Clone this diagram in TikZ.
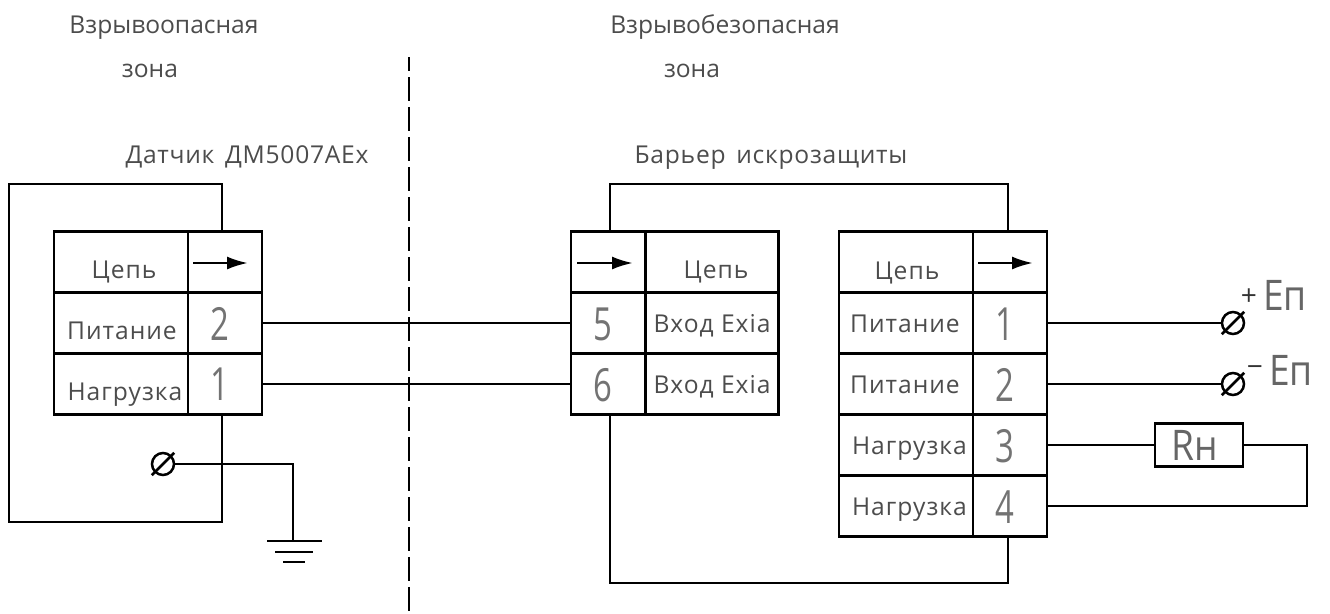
\documentclass[tikz,border=0pt]{standalone}
\usepackage{fontspec}
\setmainfont{Open Sans}
\newfontfamily\wordfont[LetterSpace=3,WordSpace=1.5]{Open Sans}
\newfontfamily\cellfont[LetterSpace=4]{Open Sans}
\newfontfamily\pinfont[FakeStretch=0.72]{Open Sans}
\newfontfamily\bigfont[FakeStretch=0.88]{Open Sans}
\usetikzlibrary{arrows.meta}
\newcommand{\celltext}[3]{\raisebox{-#2}[0pt][0pt]{\makebox[0pt]{\kern#1\kern#1 #3}}}
\newcommand{\drawslash}[1]{\draw[wire, shorten <=-2pt, shorten >=-2pt] (#1.225) -- (#1.45);}
\tikzset{
	wire/.style={line width=0.05cm},
	cell/.style={draw, wire, inner sep=0pt, minimum height=1.22cm, text=black!70, font=\cellfont\fontsize{14}{14}\selectfont},
	namecell/.style={cell, minimum width=2.68cm},
	pincell/.style={cell, minimum width=1.48cm, text=black!55, font=\pinfont\fontsize{26}{26}\selectfont},
	caption/.style={inner sep=0pt, anchor=base, text=black!70, font=\fontsize{14}{14}\selectfont},
	widecaption/.style={caption, font=\wordfont\fontsize{14}{14}\selectfont},
	terminal/.style={draw, wire, circle, inner sep=0pt, minimum size=0.44cm},
	bigtext/.style={inner sep=0pt, text=black!60, font=\bigfont\fontsize{24}{24}\selectfont},
	signtext/.style={inner sep=0pt, text=black!80, font=\fontsize{16}{16}\selectfont},
	flow/.style={line width=0.05cm, -{Latex[length=0.42cm,width=0.26cm]}},
}
\begin{document}
\begin{tikzpicture}[x=0.02cm, y=-0.02cm]
		\useasboundingbox (0, 0) rectangle (1330, 613);
		%%%%% START %%%%%
		\node[caption] (zonea) at (164, 33) {Взрывоопасная};
		\node[caption] (zonean) at (150, 77) {зона};
		\node[caption] (zoneb) at (725, 33) {Взрывобезопасная};
		\node[caption] (zonebn) at (692, 77) {зона};
		\node[widecaption] (sensorcap) at (247, 163) {Датчик ДМ5007АEx};
		\node[widecaption] (barriercap) at (771, 163) {Барьер искрозащиты};
		
		\coordinate (zonetop) at (409, 57);
		\coordinate (zonebot) at (409, 613);
		\draw[wire, dash pattern=on 0.48cm off 0.12cm, dash phase=0.2cm] (zonetop) -- (zonebot);
		
		% sensor
		\node[namecell] (sh) at (121, 262) {\celltext{0.06cm}{0.32cm}{Цепь}};
		\node[pincell] (sa) at (225, 262) {};
		\node[namecell] (sn1) at (121, 323) {\celltext{0.02cm}{0.32cm}{Питание}};
		\node[pincell] (s2) at (225, 323) {\celltext{-0.1cm}{0.34cm}{2}};
		\node[namecell] (sn2) at (121, 384) {\celltext{0.08cm}{0.32cm}{Нагрузка}};
		\node[pincell] (s1) at (225, 384) {\celltext{-0.1cm}{0.32cm}{1}};
		
		% barrier, input side
		\node[pincell] (ba) at (608, 262) {};
		\node[namecell, minimum width=2.66cm] (bh) at (712, 262) {\celltext{0.08cm}{0.32cm}{Цепь}};
		\node[pincell] (b5) at (608, 323) {\celltext{-0.1cm}{0.34cm}{5}};
		\node[namecell, minimum width=2.66cm] (bn1) at (712, 323) {\celltext{0cm}{0.18cm}{Вход Exia}};
		\node[pincell] (b6) at (608, 384) {\celltext{-0.1cm}{0.34cm}{6}};
		\node[namecell, minimum width=2.66cm] (bn2) at (712, 384) {\celltext{0cm}{0.18cm}{Вход Exia}};
		
		% barrier, output side
		\node[namecell] (ch) at (906, 262) {\celltext{0.02cm}{0.34cm}{Цепь}};
		\node[pincell] (ca) at (1010, 262) {};
		\node[namecell] (cn1) at (906, 323) {\celltext{-0.02cm}{0.18cm}{Питание}};
		\node[pincell] (c1) at (1010, 323) {\celltext{-0.1cm}{0.34cm}{1}};
		\node[namecell] (cn2) at (906, 384) {\celltext{-0.02cm}{0.18cm}{Питание}};
		\node[pincell] (c2) at (1010, 384) {\celltext{-0.1cm}{0.34cm}{2}};
		\node[namecell] (cn3) at (906, 445) {\celltext{0.07cm}{0.18cm}{Нагрузка}};
		\node[pincell] (c3) at (1010, 445) {\celltext{-0.1cm}{0.34cm}{3}};
		\node[namecell] (cn4) at (906, 506) {\celltext{0.07cm}{0.18cm}{Нагрузка}};
		\node[pincell] (c4) at (1010, 506) {\celltext{-0.1cm}{0.34cm}{4}};
		
		\coordinate (saa) at (193, 263);
		\coordinate (sab) at (248, 263);
		\draw[flow] (saa) -- (sab);
		\coordinate (baa) at (577, 263);
		\coordinate (bab) at (633, 263);
		\draw[flow] (baa) -- (bab);
		\coordinate (caa) at (978, 263);
		\coordinate (cab) at (1033, 263);
		\draw[flow] (caa) -- (cab);
		
		% sensor housing and earth
		\coordinate (stop) at (222, 232);
		\coordinate (sbot) at (222, 415);
		\coordinate (fa) at (222, 184);
		\coordinate (fb) at (9, 184);
		\coordinate (fc) at (9, 522);
		\coordinate (fd) at (222, 522);
		\draw[wire] (stop) -- (fa) -- (fb) -- (fc) -- (fd) -- (sbot);
		
		\node[terminal] (te) at (163, 464) {};
		\drawslash{te}
		\coordinate (ea) at (293, 464);
		\coordinate (eb) at (293, 541);
		\draw[wire] (te) -- (ea) -- (eb);
		\coordinate (g1a) at (267, 541);
		\coordinate (g1b) at (322, 541);
		\coordinate (g2a) at (275, 552);
		\coordinate (g2b) at (313, 552);
		\coordinate (g3a) at (283, 562);
		\coordinate (g3b) at (305, 562);
		\draw[wire] (g1a) -- (g1b);
		\draw[wire] (g2a) -- (g2b);
		\draw[wire] (g3a) -- (g3b);
		
		\draw[wire] (s2.east) -- (b5.west);
		\draw[wire] (s1.east) -- (b6.west);
		
		% barrier loops
		\coordinate (lta) at (610, 232);
		\coordinate (ltb) at (610, 184);
		\coordinate (ltc) at (1008, 184);
		\coordinate (ltd) at (1008, 232);
		\draw[wire] (lta) -- (ltb) -- (ltc) -- (ltd);
		\coordinate (lba) at (610, 415);
		\coordinate (lbb) at (610, 583);
		\coordinate (lbc) at (1008, 583);
		\coordinate (lbd) at (1008, 536);
		\draw[wire] (lba) -- (lbb) -- (lbc) -- (lbd);
		
		% outputs
		\node[terminal] (tp) at (1233, 323) {};
		\drawslash{tp}
		\node[terminal] (tm) at (1233, 384) {};
		\drawslash{tm}
		\draw[wire] (c1.east) -- (tp);
		\draw[wire] (c2.east) -- (tm);
		\node[signtext] (plus) at (1249, 297) {+};
		\node[bigtext, anchor=base] (ep) at (1285, 310) {Eп};
		\node[signtext] (minus) at (1255, 371) {−};
		\node[bigtext, anchor=base] (em) at (1291, 385) {Eп};
		
		\node[draw, wire, bigtext, minimum width=1.76cm, minimum height=0.86cm] (rload) at (1199, 445) {\celltext{-0.08cm}{0.3cm}{Rн}};
		\draw[wire] (c3.east) -- (rload);
		\coordinate (ra) at (1307, 445);
		\coordinate (rb) at (1307, 506);
		\draw[wire] (rload.east) -- (ra) -- (rb) -- (c4.east);
		%%%%% END %%%%%
	\end{tikzpicture}
\end{document}
